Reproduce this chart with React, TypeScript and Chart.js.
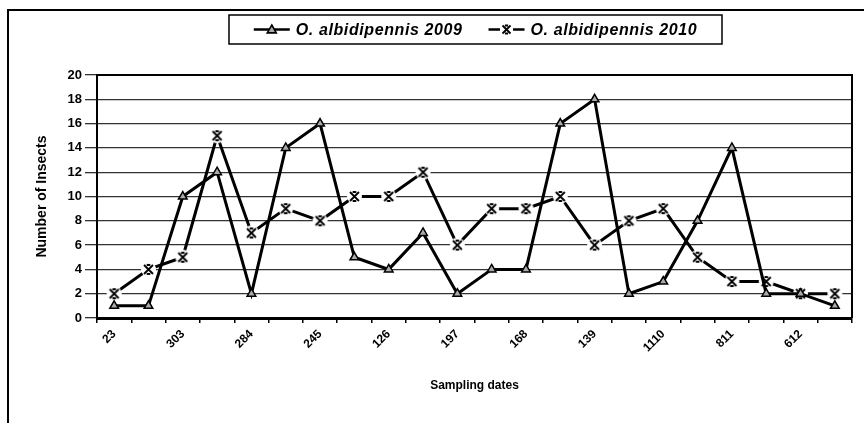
import { useEffect, useRef } from "react";
import { Chart, registerables } from "chart.js";
Chart.register(...registerables);

const categories = ["23", "", "303", "", "284", "", "245", "", "126", "", "197", "", "168", "", "139", "", "1110", "", "811", "", "612", ""];
const series2009 = [1, 1, 10, 12, 2, 14, 16, 5, 4, 7, 2, 4, 4, 16, 18, 2, 3, 8, 14, 2, 2, 1];
const series2010 = [2, 4, 5, 15, 7, 9, 8, 10, 10, 12, 6, 9, 9, 10, 6, 8, 9, 5, 3, 3, 2, 2];
const seriesNames = ["O. albidipennis 2009", "O. albidipennis 2010"];
const yMin = 0;
const yMax = 20;
const yStep = 2;
const xTitle = "Sampling dates";
const yTitle = "Number of Insects";

const FONT = "'Liberation Sans', Arial, sans-serif";

function drawStar(g: CanvasRenderingContext2D, cx: number, cy: number, r: number) {
  g.save();
  g.strokeStyle = "#000";
  g.lineWidth = 1.8;
  g.beginPath();
  g.moveTo(cx - r, cy - r);
  g.lineTo(cx + r, cy + r);
  g.moveTo(cx + r, cy - r);
  g.lineTo(cx - r, cy + r);
  g.moveTo(cx - r * 0.4, cy - r);
  g.lineTo(cx + r * 0.4, cy - r);
  g.moveTo(cx - r * 0.4, cy + r);
  g.lineTo(cx + r * 0.4, cy + r);
  g.stroke();
  g.restore();
}

function drawTri(g: CanvasRenderingContext2D, cx: number, cy: number, r: number) {
  g.save();
  g.fillStyle = "#aaa";
  g.strokeStyle = "#000";
  g.lineWidth = 1.6;
  g.beginPath();
  g.moveTo(cx, cy - r);
  g.lineTo(cx + r, cy + r * 0.75);
  g.lineTo(cx - r, cy + r * 0.75);
  g.closePath();
  g.fill();
  g.stroke();
  g.restore();
}

function makeStarMarker(): HTMLCanvasElement {
  const c = document.createElement("canvas");
  c.width = 17;
  c.height = 17;
  const g = c.getContext("2d")!;
  g.fillStyle = "#fff";
  g.beginPath();
  g.arc(8.5, 8.5, 7.5, 0, Math.PI * 2);
  g.fill();
  drawStar(g, 8.5, 8.5, 4.5);
  return c;
}

const framePlugin = {
  id: "frameAndLegend",
  afterDraw(chart: any) {
    const g: CanvasRenderingContext2D = chart.ctx;
    const area = chart.chartArea;
    g.save();
    // outer frame (left + top)
    g.strokeStyle = "#000";
    g.lineWidth = 2;
    g.beginPath();
    g.moveTo(8, 423);
    g.lineTo(8, 10);
    g.lineTo(864, 10);
    g.stroke();
    // plot area border (top + right)
    g.lineWidth = 2;
    g.beginPath();
    g.moveTo(area.left, area.top);
    g.lineTo(area.right, area.top);
    g.lineTo(area.right, area.bottom);
    g.stroke();

    // legend
    g.font = `italic bold 16px ${FONT}`;
    (g as any).letterSpacing = "0.6px";
    g.textBaseline = "middle";
    g.textAlign = "left";
    const lineW = 36;
    const gapTxt = 6;
    const gapEntries = 26;
    const w1 = g.measureText(seriesNames[0]).width;
    const w2 = g.measureText(seriesNames[1]).width;
    const total = lineW + gapTxt + w1 + gapEntries + lineW + gapTxt + w2;
    const boxL = 229;
    const boxR = 722;
    const boxT = 15;
    const boxB = 44;
    const cy = (boxT + boxB) / 2;
    let x = (boxL + boxR) / 2 - total / 2;
    g.lineWidth = 1.5;
    g.strokeRect(boxL, boxT, boxR - boxL, boxB - boxT);
    // entry 1
    g.lineWidth = 2.5;
    g.beginPath();
    g.moveTo(x, cy);
    g.lineTo(x + lineW, cy);
    g.stroke();
    drawTri(g, x + lineW / 2, cy, 4.5);
    x += lineW + gapTxt;
    g.fillStyle = "#000";
    g.fillText(seriesNames[0], x, cy + 1);
    x += w1 + gapEntries;
    // entry 2
    g.lineWidth = 2.5;
    g.beginPath();
    g.moveTo(x, cy);
    g.lineTo(x + lineW * 0.32, cy);
    g.moveTo(x + lineW * 0.68, cy);
    g.lineTo(x + lineW, cy);
    g.stroke();
    drawStar(g, x + lineW / 2, cy, 4);
    x += lineW + gapTxt;
    g.fillStyle = "#000";
    g.fillText(seriesNames[1], x, cy + 1);
    g.restore();
  },
};

export default function App() {
  const ref = useRef<HTMLCanvasElement>(null);
  useEffect(() => {
    document.body.style.margin = "0";
    const starMarker = makeStarMarker();
    const chart = new Chart(ref.current!, {
      type: "line",
      data: {
        labels: categories,
        datasets: [
          {
            label: seriesNames[0],
            data: series2009,
            borderColor: "#000",
            borderWidth: 3,
            pointStyle: "triangle",
            pointRadius: 5,
            pointBackgroundColor: "#aaa",
            pointBorderColor: "#000",
            pointBorderWidth: 1.5,
            tension: 0,
            fill: false,
          },
          {
            label: seriesNames[1],
            data: series2010,
            borderColor: "#000",
            borderWidth: 3,
            pointStyle: starMarker as any,
            pointRadius: 6,
            tension: 0,
            fill: false,
          },
        ],
      },
      options: {
        responsive: false,
        animation: false,
        devicePixelRatio: 1,
        layout: { padding: { top: 75, right: 12, left: 0, bottom: 0 } },
        plugins: {
          legend: { display: false },
          tooltip: { enabled: false },
        },
        scales: {
          x: {
            offset: true,
            grid: { display: true, drawOnChartArea: false, offset: true, tickLength: 5, color: "#000", lineWidth: 1.5 },
            border: { display: true, color: "#000", width: 3 },
            ticks: {
              autoSkip: false,
              maxRotation: 45,
              minRotation: 45,
              padding: 4,
              color: "#000",
              font: { family: FONT, size: 12, weight: "bold" },
              callback: (_v: any, i: number) => categories[i],
            },
            title: {
              display: true,
              text: xTitle,
              color: "#000",
              font: { family: FONT, size: 12, weight: "bold" },
              padding: { top: 0, bottom: 30 },
            },
            afterFit: (s: any) => {
              s.height = 105;
            },
          },
          y: {
            min: yMin,
            max: yMax,
            grid: { color: "#333", lineWidth: 1.3, tickLength: 12, drawTicks: true },
            border: { display: true, color: "#000", width: 2 },
            ticks: {
              stepSize: yStep,
              padding: 3,
              color: "#000",
              font: { family: FONT, size: 13, weight: "bold" },
            },
            title: {
              display: true,
              text: yTitle,
              color: "#000",
              font: { family: FONT, size: 14, weight: "bold" },
              padding: { top: 34, bottom: 0 },
            },
            afterFit: (s: any) => {
              s.width = 97;
            },
          },
        },
      },
      plugins: [framePlugin],
    });
    return () => chart.destroy();
  }, []);
  return (
    <div style={{ width: 864, height: 423, background: "#fff" }}>
      <canvas ref={ref} width={864} height={423} style={{ display: "block" }} />
    </div>
  );
}
